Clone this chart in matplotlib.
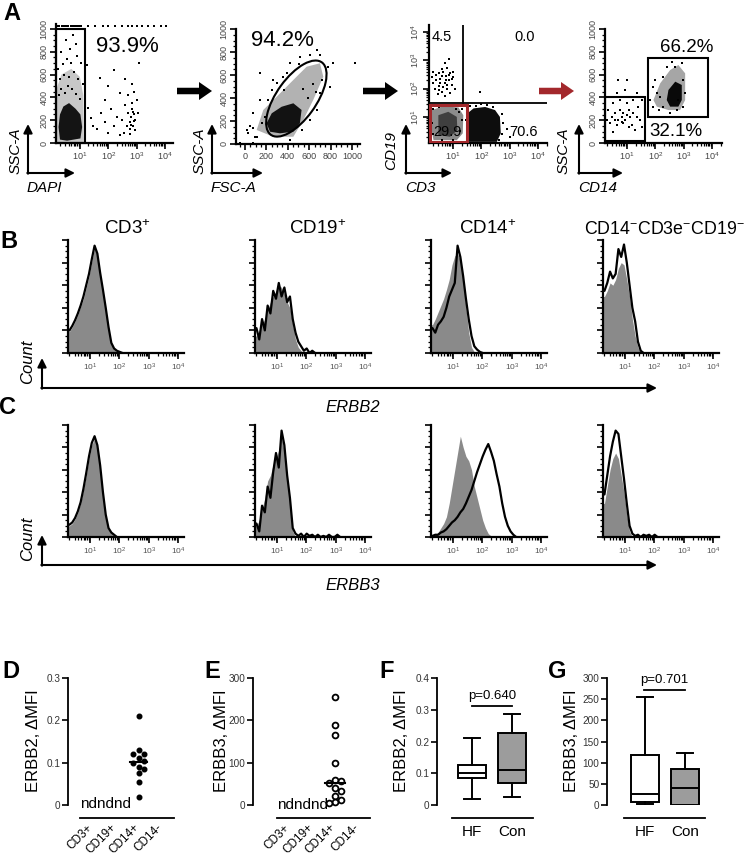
import numpy as np
import matplotlib
matplotlib.use('Agg')
import matplotlib.pyplot as plt
from matplotlib.patches import Rectangle, Ellipse, Polygon, FancyArrow
from matplotlib.ticker import MultipleLocator, LogLocator, NullFormatter
import matplotlib.transforms as mtransforms

plt.rcParams['font.family'] = ['Liberation Sans', 'DejaVu Sans']
plt.rcParams['mathtext.fontset'] = 'custom'
plt.rcParams['mathtext.rm'] = 'Liberation Sans'
plt.rcParams['mathtext.it'] = 'Liberation Sans:italic'
plt.rcParams['mathtext.bf'] = 'Liberation Sans:bold'

# ======================= DATA =======================
# ---- A1: DAPI (log10 units) vs SSC-A ----
a1_core_lx = [0.30, 0.42, 0.62, 0.85, 1.02, 1.08, 1.02, 0.55, 0.30, 0.25]
a1_core_y = [250, 320, 350, 300, 250, 140, 40, 20, 30, 140]
a1_halo_lx = [0.19, 0.19, 0.35, 0.70, 1.00, 1.12, 1.14]
a1_halo_y = [0, 480, 600, 650, 580, 420, 0]
a1_dots_lx = [0.25, 0.35, 0.48, 0.58, 0.72, 0.88, 1.02, 0.30, 0.45, 0.62, 0.80, 0.95, 0.40, 0.55,
              0.70, 0.90, 0.35, 0.65, 0.85, 0.50, 1.05, 0.75, 0.22, 1.10,
              1.30, 1.45, 1.60, 1.75, 1.90, 2.00, 2.10, 2.20, 2.30, 2.40, 2.50, 2.60, 2.68, 2.75,
              2.80, 2.85, 2.88, 2.92, 2.78, 2.95, 2.70, 2.90, 2.82, 2.60, 3.00, 2.40, 1.70, 2.20,
              3.10, 2.00, 1.40, 2.85, 2.75, 2.95, 2.88, 2.92, 2.80, 3.05, 2.65, 2.55, 1.25, 1.90]
a1_dots_y = [420, 470, 440, 500, 470, 430, 390, 560, 600, 580, 620, 560, 690, 740,
             700, 760, 800, 820, 870, 900, 700, 950, 650, 520,
             310, 150, 120, 260, 180, 90, 300, 150, 230, 70, 200, 330, 260, 180,
             230, 300, 150, 250, 120, 200, 420, 450, 520, 560, 380, 440, 570, 640,
             700, 500, 220, 350, 80, 110, 270, 190, 160, 260, 150, 90, 680, 380]
a1_top_lx = [0.20, 0.28, 0.36, 0.45, 0.52, 0.60, 0.68, 0.75, 0.82, 0.90, 0.98, 1.05, 1.30,
             1.55, 1.80, 2.00, 2.25, 2.50, 2.70, 2.85, 3.00, 3.20, 3.40, 3.60, 3.85, 4.05]
a1_top_y = 1025
a1_gate_lx = 1.18
a1_pct = '93.9%'

# ---- A2: FSC-A vs SSC-A ----
a2_core_x = [202, 250, 343, 452, 529, 513, 452, 327, 234]
a2_core_y = [180, 267, 324, 354, 296, 180, 107, 93, 107]
a2_halo_x = [109, 171, 296, 452, 576, 701, 732, 638, 545, 452, 264]
a2_halo_y = [122, 296, 411, 557, 672, 702, 585, 383, 209, 63, 63]
a2_dots_x = [31, 78, 94, 155, 187, 218, 250, 296, 358, 420, 513, 608, 701, 778, 794, 701, 669,
             608, 529, 420, 78, 15, 140, 264, 825, 1032, 669, 140, -47, 78, 110, 46, 542, 640,
             591, 395, 365, 503, 660, 718]
a2_dots_y = [93, 136, 64, 180, 238, 383, 470, 528, 586, 701, 759, 774, 774, 672, 499, 441, 296,
             209, 122, 35, 267, 122, 383, 557, 701, 701, 817, 615, 6, 6, 60, 160, 480, 520,
             400, 620, 470, 700, 450, 560]
a2_ell = dict(cx=480, cy=395, major=790, minor=365, angle=52)
a2_pct = '94.2%'

# ---- A3: CD3 (log10) vs CD19 (log10) ----
a3_t_core_lx = [1.50, 1.72, 2.13, 2.48, 2.65, 2.68, 2.54, 1.54, 1.48]
a3_t_core_ly = [1.13, 1.31, 1.36, 1.25, 1.01, 0.43, 0.13, 0.13, 0.66]
a3_dn_halo_lx = [0.25, 0.66, 1.19, 1.36, 1.34, 1.13, 0.31, 0.22]
a3_dn_halo_ly = [1.25, 1.39, 1.34, 1.07, 0.43, 0.19, 0.19, 0.66]
a3_dn_core_lx = [0.48, 0.83, 1.13, 1.15, 0.89, 0.48]
a3_dn_core_ly = [1.07, 1.19, 1.01, 0.54, 0.31, 0.37]
a3_dots_lx = [0.30, 0.40, 0.50, 0.55, 0.60, 0.65, 0.70, 0.75, 0.80, 0.85, 0.90, 0.95, 1.00, 0.45,
              0.35, 0.60, 0.80, 0.50, 0.70, 0.90, 1.05, 0.25, 0.65, 0.75, 0.55, 0.85, 0.40, 1.00,
              0.70, 0.30, 0.95, 0.60, 0.80, 0.50, 0.84, 1.95,
              1.50, 1.60, 2.00, 2.40, 2.72, 2.76, 2.72, 2.62, 1.45, 2.90, 3.00, 2.20, 1.80,
              0.30, 0.50, 1.20, 1.30, 0.25, 0.30, 1.25, 0.60, 1.00, 1.30, 0.20, 1.10]
a3_dots_ly = [2.20, 2.50, 2.10, 2.35, 1.90, 2.60, 2.20, 2.45, 2.00, 2.30, 2.55, 2.15, 2.40, 1.80,
              2.00, 2.70, 2.75, 2.55, 1.75, 1.85, 2.00, 2.40, 2.05, 2.30, 2.20, 2.50, 2.30, 2.60,
              2.90, 2.60, 2.35, 2.45, 2.15, 1.95, 3.05, 1.89,
              1.30, 1.40, 1.45, 1.35, 1.10, 0.80, 0.40, 0.20, 0.90, 0.60, 0.30, 1.42, 1.40,
              1.30, 1.35, 1.20, 0.90, 0.80, 0.40, 0.50, 0.20, 0.20, 1.30, 1.05, 1.30]
a3_quad_lx, a3_quad_ly = 1.35, 1.49
a3_red_box = dict(lx0=0.17, lx1=1.49, ly0=0.13, ly1=1.42)
a3_pcts = ['4.5', '0.0', '29.9', '70.6']

# ---- A4: CD14 (log10) vs SSC-A ----
a4_core_lx = [2.46, 2.70, 2.93, 2.93, 2.81, 2.52, 2.40]
a4_core_y = [465, 538, 509, 377, 319, 319, 377]
a4_halo_lx = [1.93, 2.17, 2.52, 2.81, 3.05, 3.05, 2.87, 2.46, 2.05]
a4_halo_y = [377, 524, 640, 684, 611, 377, 289, 289, 319]
a4_dots_lx = [1.93, 1.81, 2.05, 1.99, 2.28, 2.17, 2.40, 2.70, 2.93, 2.99, 3.05, 2.99, 2.76, 2.28,
              2.52, 2.11, 1.73, 1.93, 2.58, 2.81,
              0.34, 0.46, 0.58, 0.69, 0.75, 0.81, 0.87, 0.93, 0.99, 1.05, 1.11, 1.22, 1.34, 0.40,
              0.64, 0.87, 1.17, 0.52, 0.75, 0.99, 1.22, 1.40, 1.46, 0.64, 0.93, 0.69, 0.99, 1.34,
              1.52, 0.40, 0.58, 0.81, 1.05, 0.28, 1.52, 0.49, 1.28]
a4_dots_y = [319, 377, 436, 553, 582, 406, 669, 669, 699, 553, 436, 319, 289, 319,
             260, 289, 655, 494, 713, 377,
             289, 231, 260, 202, 289, 231, 260, 202, 245, 289, 231, 260, 231, 173,
             158, 173, 158, 348, 377, 348, 377, 319, 202, 436, 465, 553, 553, 436,
             377, 406, 202, 187, 143, 202, 143, 99, 114]
a4_gate_lo = dict(lx0=0.22, lx1=1.64, y0=18, y1=404)
a4_gate_hi = dict(lx0=1.74, lx1=3.86, y0=228, y1=746)
a4_pcts = ['66.2%', '32.1%']

# ---- B/C histograms: normalised counts on a log10 grid (start 0.30, step 0.095 decades) ----
hist_titles = [r'CD3$^{+}$', r'CD19$^{+}$', r'CD14$^{+}$', r'CD14$^{-}$CD3e$^{-}$CD19$^{-}$']
b_gray = [
    [0.19, 0.23, 0.28, 0.34, 0.41, 0.48, 0.58, 0.68, 0.81, 0.93, 0.86, 0.69, 0.55, 0.39, 0.22, 0.08, 0.03, 0.01, 0],
    [0.15, 0.20, 0.25, 0.30, 0.38, 0.45, 0.50, 0.55, 0.60, 0.58, 0.52, 0.45, 0.40, 0.25, 0.12, 0.05, 0.02, 0],
    [0.25, 0.30, 0.36, 0.42, 0.48, 0.56, 0.65, 0.78, 0.86, 0.88, 0.82, 0.65, 0.40, 0.18, 0.05, 0.01, 0],
    [0.50, 0.55, 0.62, 0.60, 0.65, 0.75, 0.80, 0.78, 0.65, 0.50, 0.30, 0.15, 0.05, 0],
]
b_black = [
    [0.20, 0.24, 0.29, 0.35, 0.42, 0.50, 0.60, 0.70, 0.83, 0.95, 0.88, 0.71, 0.56, 0.40, 0.23, 0.09, 0.04, 0.02, 0.01, 0],
    [0.22, 0.12, 0.30, 0.20, 0.42, 0.35, 0.55, 0.48, 0.62, 0.50, 0.58, 0.45, 0.50, 0.30, 0.18, 0.10, 0.06, 0.02, 0.04, 0.0, 0.02, 0],
    [0.22, 0.18, 0.25, 0.28, 0.32, 0.40, 0.50, 0.56, 0.62, 0.95, 0.85, 0.68, 0.48, 0.30, 0.15, 0.06, 0.03, 0.01, 0],
    [0.55, 0.62, 0.72, 0.66, 0.70, 0.92, 0.85, 0.96, 0.80, 0.60, 0.40, 0.28, 0.10, 0.02, 0],
]
c_gray = [
    [0.10, 0.12, 0.16, 0.22, 0.30, 0.42, 0.55, 0.70, 0.82, 0.88, 0.80, 0.62, 0.38, 0.18, 0.07, 0.04, 0.01, 0],
    [0.10, 0.15, 0.25, 0.35, 0.50, 0.55, 0.65, 0.70, 0.78, 0.90, 0.75, 0.50, 0.30, 0.05, 0],
    [0.01, 0.02, 0.04, 0.08, 0.12, 0.18, 0.30, 0.45, 0.60, 0.75, 0.90, 0.80, 0.72, 0.68, 0.60, 0.45, 0.35,
     0.25, 0.15, 0.08, 0.03, 0.01, 0],
    [0.30, 0.45, 0.60, 0.70, 0.75, 0.70, 0.55, 0.40, 0.20, 0.05, 0],
]
c_black = [
    [0.11, 0.13, 0.17, 0.23, 0.31, 0.43, 0.57, 0.72, 0.84, 0.90, 0.82, 0.64, 0.40, 0.20, 0.08, 0.04, 0.02, 0],
    [0.12, 0.05, 0.28, 0.22, 0.45, 0.35, 0.58, 0.75, 0.62, 0.95, 0.82, 0.55, 0.35, 0.08, 0.03, 0.01, 0.03,
     0.0, 0.03, 0.01, 0.02, 0.0, 0.02, 0.0, 0.01, 0.0, 0.02, 0.0, 0.0, 0.02, 0],
    [0.01, 0.02, 0.02, 0.04, 0.05, 0.07, 0.10, 0.13, 0.15, 0.18, 0.22, 0.25, 0.30, 0.36, 0.42, 0.50, 0.58,
     0.65, 0.72, 0.78, 0.83, 0.76, 0.68, 0.56, 0.45, 0.30, 0.18, 0.10, 0.05, 0.02, 0],
    [0.38, 0.55, 0.72, 0.85, 0.95, 0.92, 0.72, 0.52, 0.30, 0.10, 0.03, 0.01, 0.02, 0.0, 0.02, 0.01, 0.02, 0.0, 0.02, 0],
]
hist_grid_start, hist_grid_step = 0.30, 0.095

# ---- D/E dot plots ----
cell_types = ['CD3+', 'CD19+', 'CD14+', 'CD14-']
d_erbb2_cd14 = [0.21, 0.13, 0.12, 0.12, 0.11, 0.105, 0.10, 0.09, 0.085, 0.075, 0.055, 0.02]
e_erbb3_cd14 = [255, 190, 165, 100, 59, 57, 53, 40, 33, 21, 12, 8, 4]
nd_text = 'ndndnd'

# ---- F/G box plots ----
groups = ['HF', 'Con']
f_whislo = [0.02, 0.025]; f_q1 = [0.084, 0.068]; f_med = [0.102, 0.11]; f_q3 = [0.126, 0.226]; f_whishi = [0.21, 0.287]
g_whislo = [1.5, 0]; g_q1 = [6, 0]; g_med = [26, 41]; g_q3 = [117, 86]; g_whishi = [254, 122]
f_p = 'p=0.640'; f_p_y = 0.312
g_p = 'p=0.701'; g_p_y = 272

# ======================= FIGURE =======================
W, H = 747, 865
fig = plt.figure(figsize=(W / 100, H / 100), dpi=100)


def pxax(l, t, r, b):
    ax = fig.add_axes([l / W, 1 - b / H, (r - l) / W, (b - t) / H])
    ax.patch.set_alpha(0)
    return ax


LOGLAB = [r'$10^{1}$', r'$10^{2}$', r'$10^{3}$', r'$10^{4}$']


def flow_style(ax, xlog, ylog):
    for s in ['top', 'right']:
        ax.spines[s].set_visible(False)
    for s in ['left', 'bottom']:
        ax.spines[s].set_linewidth(1.6)
    if xlog:
        ax.set_xscale('log')
        ax.set_xticks([10, 100, 1000, 10000], labels=LOGLAB)
        ax.xaxis.set_minor_locator(LogLocator(base=10, subs=np.arange(2, 10) * 1.0, numticks=50))
        ax.xaxis.set_minor_formatter(NullFormatter())
    else:
        ax.set_xticks([0, 200, 400, 600, 800, 1000])
        ax.xaxis.set_minor_locator(MultipleLocator(50))
    if ylog:
        ax.set_yscale('log')
        ax.set_yticks([10, 100, 1000, 10000], labels=LOGLAB)
        ax.yaxis.set_minor_locator(LogLocator(base=10, subs=np.arange(2, 10) * 1.0, numticks=50))
        ax.yaxis.set_minor_formatter(NullFormatter())
    else:
        ax.set_yticks([0, 200, 400, 600, 800, 1000])
        ax.yaxis.set_minor_locator(MultipleLocator(50))
    ax.tick_params(which='major', direction='out', length=4, width=1.2, labelsize=6.5,
                   labelcolor='#444', pad=1.5)
    ax.tick_params(which='minor', direction='out', length=2.2, width=0.9)
    plt.setp(ax.get_yticklabels(), rotation=90, va='center')


def dots(ax, x, y):
    ax.scatter(x, y, s=1.3, c='k', marker='s', linewidths=0, zorder=3)


def poly(ax, x, y, alpha):
    ax.add_patch(Polygon(np.column_stack([x, y]), closed=True, fc='k', ec='none', alpha=alpha, zorder=2))


L10 = lambda v: 10 ** np.asarray(v, dtype=float)

# ---- A1 ----
ax = pxax(56, 24.4, 173, 143)
ax.set_xlim(10 ** 0.16, 10 ** 4.28); ax.set_ylim(0, 1040)
flow_style(ax, True, False)
poly(ax, L10(a1_halo_lx), a1_halo_y, 0.22)
poly(ax, L10(a1_core_lx), a1_core_y, 0.9)
dots(ax, L10(a1_dots_lx), a1_dots_y)
dots(ax, L10(a1_top_lx), [a1_top_y] * len(a1_top_lx))
ax.add_patch(Rectangle((10 ** 0.16, 0), 10 ** a1_gate_lx - 10 ** 0.16, 1000, fill=False, ec='k', lw=1.5, zorder=4, clip_on=False))

# ---- A2 ----
ax = pxax(236, 29, 360, 144)
ax.set_xlim(-84, 1075); ax.set_ylim(0, 1000)
flow_style(ax, False, False)
poly(ax, a2_halo_x, a2_halo_y, 0.3)
poly(ax, a2_core_x, a2_core_y, 0.9)
dots(ax, a2_dots_x, a2_dots_y)
ax.add_patch(Ellipse((a2_ell['cx'], a2_ell['cy']), a2_ell['major'], a2_ell['minor'], angle=a2_ell['angle'],
                     fill=False, ec='k', lw=1.5, zorder=4))

# ---- A3 ----
ax = pxax(429, 25, 547, 143)
ax.set_xlim(10 ** 0.15, 10 ** 4.31); ax.set_ylim(10 ** 0.09, 10 ** 4.25)
flow_style(ax, True, True)
poly(ax, L10(a3_dn_halo_lx), L10(a3_dn_halo_ly), 0.45)
poly(ax, L10(a3_dn_core_lx), L10(a3_dn_core_ly), 0.55)
poly(ax, L10(a3_t_core_lx), L10(a3_t_core_ly), 0.95)
dots(ax, L10(a3_dots_lx), L10(a3_dots_ly))
ax.plot([10 ** 0.15, 10 ** 4.31], [10 ** a3_quad_ly] * 2, color='k', lw=1.3, zorder=4)
ax.plot([10 ** a3_quad_lx] * 2, [10 ** a3_quad_ly, 10 ** 4.25], color='k', lw=1.3, zorder=4)
rb = a3_red_box
ax.add_patch(Rectangle((10 ** rb['lx0'], 10 ** rb['ly0']), 10 ** rb['lx1'] - 10 ** rb['lx0'],
                       10 ** rb['ly1'] - 10 ** rb['ly0'], fill=False, ec='#A3282C', lw=2.2, zorder=5))

# ---- A4 ----
ax = pxax(605, 29, 722, 143)
ax.set_xlim(10 ** 0.22, 10 ** 4.35); ax.set_ylim(0, 1000)
flow_style(ax, True, False)
poly(ax, L10(a4_halo_lx), a4_halo_y, 0.35)
poly(ax, L10(a4_core_lx), a4_core_y, 0.95)
dots(ax, L10(a4_dots_lx), a4_dots_y)
for g in (a4_gate_lo, a4_gate_hi):
    ax.add_patch(Rectangle((10 ** g['lx0'], g['y0']), 10 ** g['lx1'] - 10 ** g['lx0'], g['y1'] - g['y0'],
                           fill=False, ec='k', lw=1.5, zorder=4))


# ---- B/C histograms ----
def hist_style(ax):
    ax.set_xscale('log')
    ax.set_xlim(10 ** 0.25, 10 ** 4.2)
    ax.set_ylim(0, 1.0)
    for s in ['top', 'right']:
        ax.spines[s].set_visible(False)
    for s in ['left', 'bottom']:
        ax.spines[s].set_linewidth(1.6)
    ax.set_xticks([10, 100, 1000, 10000], labels=LOGLAB)
    ax.xaxis.set_minor_locator(LogLocator(base=10, subs=np.arange(2, 10) * 1.0, numticks=50))
    ax.xaxis.set_minor_formatter(NullFormatter())
    ax.yaxis.set_major_locator(MultipleLocator(0.2))
    ax.yaxis.set_minor_locator(MultipleLocator(0.05))
    ax.tick_params(axis='y', labelleft=False)
    ax.tick_params(which='major', direction='out', length=4, width=1.2, labelsize=6, labelcolor='#555', pad=2)
    ax.tick_params(which='minor', direction='out', length=2, width=0.9)


def draw_hist(ax, gray, black):
    for vals, kind in ((gray, 'g'), (black, 'k')):
        v = np.asarray(vals, dtype=float)
        lx = hist_grid_start + hist_grid_step * np.arange(len(v))
        x = np.concatenate([[10 ** 0.25], 10 ** lx])
        y = np.concatenate([[v[0]], v])
        if kind == 'g':
            ax.fill_between(x, 0, y, color='#8a8a8a', lw=0, zorder=2)
        else:
            ax.plot(x, y, color='k', lw=1.6, zorder=3)


hist_lefts = [68, 255, 431, 603]
for i, l in enumerate(hist_lefts):
    ax = pxax(l, 240, l + 116, 353)
    hist_style(ax)
    draw_hist(ax, b_gray[i], b_black[i])
    ax = pxax(l, 425, l + 116, 537)
    hist_style(ax)
    draw_hist(ax, c_gray[i], c_black[i])


# ---- D/E/F/G ----
def stat_style(ax):
    for s in ['top', 'right', 'bottom']:
        ax.spines[s].set_visible(False)
    ax.spines['left'].set_linewidth(1.3)
    ax.tick_params(axis='y', direction='out', length=4, width=1.2, labelsize=7.2, labelcolor='#333', pad=1.5)
    ax.tick_params(axis='x', bottom=False, labelbottom=False)


def baseline(ax, x0, x1):
    tr = mtransforms.blended_transform_factory(ax.transData, ax.transAxes)
    ax.plot([x0, x1], [-0.102, -0.102], color='k', lw=1.3, transform=tr, clip_on=False)
    return tr


def swarm(vals, ppu, xstep_px, px_per_x, min_d=5.0):
    placed, offs = [], []
    for v in vals:
        yp = v * ppu
        xp = 0
        for c in [0, 1, -1, 2, -2, 3, -3]:
            xp = c * xstep_px
            if all((xp - a) ** 2 + (yp - b) ** 2 >= min_d ** 2 for a, b in placed):
                break
        placed.append((xp, yp))
        offs.append(xp / px_per_x)
    return np.array(offs)


# D
ax = pxax(68, 678, 182, 805)
stat_style(ax)
ax.set_xlim(-0.03, 4.86); ax.set_ylim(0, 0.3)
ax.set_yticks([0, 0.1, 0.2, 0.3], labels=['0', '0.1', '0.2', '0.3'])
tr = baseline(ax, 0.49, 4.52)
offs = swarm(d_erbb2_cd14, 127 / 0.3, 5.5, 23.3)
ax.plot(3 + offs, d_erbb2_cd14, 'o', ms=3.3, color='k', mec='k', clip_on=False)
med = np.median(d_erbb2_cd14)
ax.plot([3 - 0.38, 3 + 0.38], [med, med], color='k', lw=1.5)
ax.text(0.49, 0.003, nd_text, ha='left', va='center', fontsize=11)
for k, lab in enumerate(cell_types):
    ax.text(k + 1 - 0.05, -0.165, lab, transform=tr, rotation=45, rotation_mode='anchor',
            ha='right', va='center', fontsize=8.5)

# E
ax = pxax(253, 678, 370, 805)
stat_style(ax)
ax.set_xlim(-0.57, 4.52); ax.set_ylim(0, 300)
ax.set_yticks([0, 100, 200, 300], labels=['0', '100', '200', '300'])
tr = baseline(ax, 0.47, 4.52)
offs = swarm(e_erbb3_cd14, 127 / 300, 6.0, 23.0)
ax.plot(3 + offs, e_erbb3_cd14, 'o', ms=4.2, mfc='white', mec='k', mew=1.3, clip_on=False)
med = np.median(e_erbb3_cd14)
ax.plot([3 - 0.45, 3 + 0.45], [med, med], color='k', lw=1.5)
ax.text(0.47, 1, nd_text, ha='left', va='center', fontsize=11)
for k, lab in enumerate(cell_types):
    ax.text(k + 1 - 0.05, -0.165, lab, transform=tr, rotation=45, rotation_mode='anchor',
            ha='right', va='center', fontsize=8.5)


def boxes(ax, lo, q1, md, q3, hi):
    stats = [dict(whislo=lo[i], q1=q1[i], med=md[i], q3=q3[i], whishi=hi[i], label=groups[i]) for i in range(2)]
    bp = ax.bxp(stats, positions=[1, 2], widths=0.7, patch_artist=True, showfliers=False,
                boxprops=dict(linewidth=1.4, edgecolor='k'), medianprops=dict(color='k', linewidth=1.4),
                whiskerprops=dict(linewidth=1.4, color='k'), capprops=dict(linewidth=1.4, color='k'),
                capwidths=0.42)
    bp['boxes'][0].set_facecolor('white')
    bp['boxes'][1].set_facecolor('#9c9c9c')


# F
ax = pxax(437, 678, 535, 805)
stat_style(ax)
boxes(ax, f_whislo, f_q1, f_med, f_q3, f_whishi)
ax.set_xlim(0.125, 2.575); ax.set_ylim(0, 0.4)
ax.set_yticks([0, 0.1, 0.2, 0.3, 0.4], labels=['0', '0.1', '0.2', '0.3', '0.4'])
ax.tick_params(axis='x', bottom=False, labelbottom=False)
tr = baseline(ax, 0.5, 2.525)
for k, lab in enumerate(groups):
    ax.text(k + 1, -0.213, lab, transform=tr, ha='center', va='center', fontsize=11)
ax.plot([1, 2], [f_p_y, f_p_y], color='k', lw=1.3)
ax.text(1.5, f_p_y + 0.012, f_p, ha='center', va='bottom', fontsize=9.5)

# G
ax = pxax(607, 678, 710, 805)
stat_style(ax)
boxes(ax, g_whislo, g_q1, g_med, g_q3, g_whishi)
ax.set_xlim(0.05, 2.625); ax.set_ylim(0, 300)
ax.set_yticks([0, 50, 100, 150, 200, 250, 300], labels=['0', '50', '100', '150', '200', '250', '300'])
ax.tick_params(axis='x', bottom=False, labelbottom=False)
tr = baseline(ax, 0.475, 2.5)
for k, lab in enumerate(groups):
    ax.text(k + 1, -0.213, lab, transform=tr, ha='center', va='center', fontsize=11)
ax.plot([0.975, 2.0], [g_p_y, g_p_y], color='k', lw=1.3, clip_on=False)
ax.text(1.49, g_p_y + 9, g_p, ha='center', va='bottom', fontsize=9.5, clip_on=False)

# ======================= OVERLAY (labels, arrows) =======================
ov = fig.add_axes([0, 0, 1, 1], zorder=10)
ov.set_xlim(0, W); ov.set_ylim(H, 0); ov.axis('off')

AP = dict(arrowstyle='-|>', lw=1.5, color='k', mutation_scale=13, shrinkA=0, shrinkB=0)


def l_arrow(x0, y0, xe, yt, xlab, ylab, ylx):
    ov.annotate('', xy=(x0, yt), xytext=(x0, y0 + 0.7), arrowprops=AP)
    ov.annotate('', xy=(xe, y0), xytext=(x0 - 0.7, y0), arrowprops=AP)
    ov.text(x0 - 1, y0 + 15, xlab, ha='left', va='center', fontsize=11, style='italic')
    ov.text(ylx, (y0 + yt) / 2 + 2, ylab, ha='center', va='center', rotation=90, fontsize=11, style='italic')


l_arrow(28, 173, 75, 124, 'DAPI', 'SSC-A', 16)
l_arrow(212, 173, 263, 124, 'FSC-A', 'SSC-A', 200)
l_arrow(406, 173, 452, 124, 'CD3', 'CD19', 391)
l_arrow(579, 173, 623, 124, 'CD14', 'SSC-A', 564)

for (x0, x1, col) in [(177, 212, 'k'), (363, 398, 'k'), (539, 574, '#A3282C')]:
    ov.add_patch(FancyArrow(x0, 91, x1 - x0, 0, width=6.5, head_width=18, head_length=13,
                            length_includes_head=True, color=col, lw=0))

ov.text(127, 46, a1_pct, ha='center', va='center', fontsize=16)
ov.text(282, 41, a2_pct, ha='center', va='center', fontsize=16)
ov.text(442, 37, a3_pcts[0], ha='center', va='center', fontsize=10.5)
ov.text(525, 37, a3_pcts[1], ha='center', va='center', fontsize=10.5)
ov.text(447, 132, a3_pcts[2], ha='center', va='center', fontsize=10.5)
ov.text(523, 132, a3_pcts[3], ha='center', va='center', fontsize=10.5)
ov.text(687, 47, a4_pcts[0], ha='center', va='center', fontsize=13.5)
ov.text(676, 132, a4_pcts[1], ha='center', va='center', fontsize=13.5)

for t, (x, y) in zip('ABCDEFG', [(12, 14), (9, 242), (8, 408), (11, 671), (212, 671), (387, 671), (557, 671)]):
    ov.text(x, y, t, ha='center', va='center', fontsize=17, fontweight='bold')

for t, x in zip(hist_titles[:3], [127, 318, 488]):
    ov.text(x, 229, t, ha='center', va='center', fontsize=13.5)
ov.text(745, 229, hist_titles[3], ha='right', va='center', fontsize=12.8)

for yb, lab in [(388, 'ERBB2'), (565, 'ERBB3')]:
    ov.annotate('', xy=(42, yb - 30), xytext=(42, yb + 0.7), arrowprops=AP)
    ov.annotate('', xy=(657, yb), xytext=(41.3, yb), arrowprops=AP)
    ov.text(28, yb - 26, 'Count', rotation=90, ha='center', va='center', fontsize=12, style='italic')
    ov.text(325, yb + 20, lab, ha='left', va='center', fontsize=12, style='italic')

for x, lab in [(33, 'ERBB2, ΔMFI'), (222, 'ERBB3, ΔMFI'), (402, 'ERBB2, ΔMFI'), (572, 'ERBB3, ΔMFI')]:
    ov.text(x, 741, lab, rotation=90, ha='center', va='center', fontsize=12)

fig.savefig('out.png', dpi=100)
